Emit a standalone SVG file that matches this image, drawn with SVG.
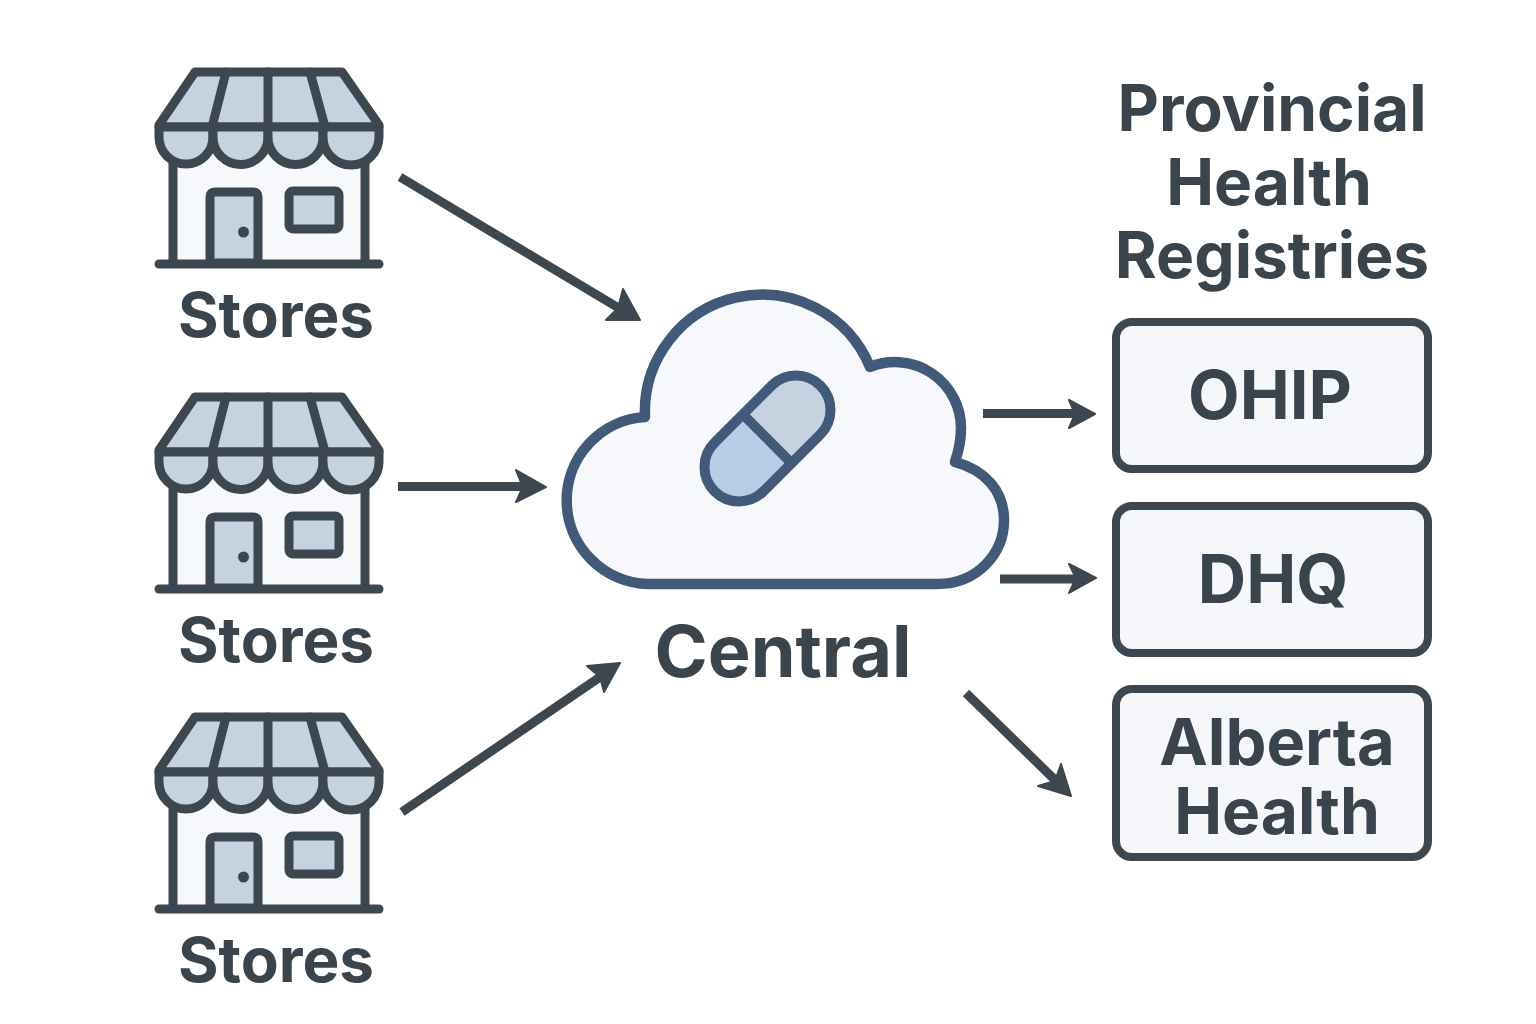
<svg xmlns="http://www.w3.org/2000/svg" width="1536" height="1024" viewBox="0 0 1536 1024">
<style>
text{font-family:"Inter","Liberation Sans",sans-serif;font-weight:700;fill:#3a444d;text-anchor:middle}
.s{fill:none;stroke:#3c4750;stroke-width:9;stroke-linecap:round;stroke-linejoin:round}
.f{fill:#c5d2df;stroke:#3c4750;stroke-width:9;stroke-linejoin:round}
.box{fill:#f5f7fa;stroke:#3c4750;stroke-width:8}
.c{fill:none;stroke:#3c4750;stroke-width:9}
.h{fill:#3c4750;stroke:#3c4750;stroke-width:2;stroke-linejoin:round}
</style>
<defs>
<g id="store">
<path d="M173 150H365V263H173Z" fill="#f6f8fb" stroke="none"/>
<path class="s" d="M173 160V263M365 160V263"/>
<path class="f" d="M195 72H342L379 125V127H159V125Z"/>
<path class="s" d="M226 72L212 127M268 72V127M310 72L325 127"/>
<path class="f" d="M159 127H213V137A27 27 0 0 1 159 137Z"/>
<path class="f" d="M213 127H268V137A27.500 27.500 0 0 1 213 137Z"/>
<path class="f" d="M268 127H323V137A27.500 27.500 0 0 1 268 137Z"/>
<path class="f" d="M323 127H379V137A28 28 0 0 1 323 137Z"/>
<path class="f" d="M210 263V197Q210 192 215 192H253Q258 192 258 197V263Z"/>
<circle cx="243.500" cy="232" r="5.500" fill="#3c4750"/>
<rect class="f" x="289" y="191" width="50" height="38" rx="4"/>
<path class="s" d="M159 264H379"/>
</g>
</defs>
<rect width="1536" height="1024" fill="#ffffff"/>
<g id="connectors">
<path class="c" d="M400 177L622 310"/><path class="h" d="M640 320L606 320L618 308L623 289Z"/>
<path class="c" d="M398 486.500H530"/><path class="h" d="M546 487L516 502L523 487L516 470Z"/>
<path class="c" d="M402 812L606 673"/><path class="h" d="M620 663L587 666L600 677L604 692Z"/>
<path class="c" d="M983 413.500H1080"/><path class="h" d="M1095 414L1069 428L1075 414L1069 400Z"/>
<path class="c" d="M1000 579H1082"/><path class="h" d="M1096 578L1069 593L1076 578L1069 564Z"/>
<path class="c" d="M966 693L1056 781"/><path class="h" d="M1071 796L1038 786L1055 781L1061 764Z"/>
</g>
<g id="store-1"><use href="#store"/><text x="276" y="337" font-size="62">Stores</text></g>
<g id="store-2"><use href="#store" y="325"/><text x="276" y="662" font-size="62">Stores</text></g>
<g id="store-3"><use href="#store" y="645"/><text x="276" y="982" font-size="62">Stores</text></g>
<g id="central">
<path d="M648 584H937C978 584 1004 553 1004 520C1004 491 985 470 955 462C959 450 961 439 961 428A66 66 0 0 0 870 367A117 117 0 0 0 645 417A83.600 83.600 0 0 0 648 584Z" fill="#f6f8fb" stroke="#415a7a" stroke-width="10.500" stroke-linejoin="round"/>
<path d="M742.800 414.300L791.600 463.200L820.400 434.400A34.500 34.500 0 0 0 771.600 385.600Z" fill="#c5d2df"/>
<path d="M742.800 414.300L791.600 463.200L763.400 491.400A34.500 34.500 0 0 1 714.600 442.600Z" fill="#b7cde6"/>
<path d="M714.600 442.600L771.600 385.600A34.500 34.500 0 0 1 820.400 434.400L763.400 491.400A34.500 34.500 0 0 1 714.600 442.600ZM742.800 414.300L791.600 463.200" fill="none" stroke="#415a7a" stroke-width="10" stroke-linejoin="round"/>
<text x="783" y="677" font-size="72">Central</text>
</g>
<g id="registries-title">
<text x="1272" y="131" font-size="64">Provincial</text>
<text x="1269" y="205" font-size="64">Health</text>
<text x="1272" y="278" font-size="64">Registries</text>
</g>
<g id="ohip"><rect class="box" x="1116" y="322" width="312" height="147" rx="16"/><text x="1270" y="419" font-size="67">OHIP</text></g>
<g id="dhq"><rect class="box" x="1116" y="506" width="312" height="147" rx="16"/><text x="1273" y="603" font-size="67">DHQ</text></g>
<g id="alberta"><rect class="box" x="1116" y="689" width="312" height="168" rx="16"/><text x="1277" y="765" font-size="65">Alberta</text><text x="1277" y="834" font-size="64">Health</text></g>
</svg>
